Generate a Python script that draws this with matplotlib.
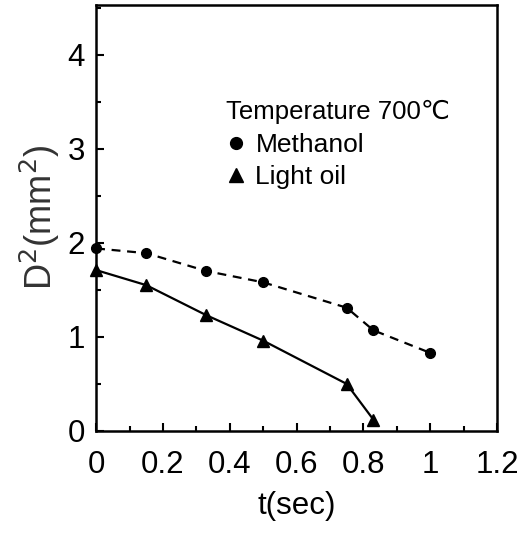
import matplotlib
matplotlib.use("Agg")
import matplotlib.pyplot as plt
from matplotlib.lines import Line2D
from matplotlib.ticker import MultipleLocator

plt.rcParams['font.family'] = ['Liberation Sans', 'DejaVu Sans']

# data
t_methanol = [0, 0.15, 0.33, 0.5, 0.75, 0.83, 1.0]
d2_methanol = [1.94, 1.89, 1.70, 1.58, 1.31, 1.07, 0.83]

t_oil = [0, 0.15, 0.33, 0.5, 0.75, 0.83]
d2_oil = [1.71, 1.55, 1.23, 0.96, 0.50, 0.12]

xticks = [0, 0.2, 0.4, 0.6, 0.8, 1, 1.2]
xticklabels = ['0', '0.2', '0.4', '0.6', '0.8', '1', '1.2']
yticks = [0, 1, 2, 3, 4]

fig = plt.figure(figsize=(5.31, 5.36), dpi=100)
ax = fig.add_axes([0.181, 0.196, 0.755, 0.795])

ax.plot(t_methanol, d2_methanol, color='black', lw=1.6, ls=(0, (4, 3)),
        marker='o', ms=7, clip_on=False)
ax.plot(t_oil, d2_oil, color='black', lw=1.6, ls='-',
        marker='^', ms=8, clip_on=False)

ax.set_xlim(0, 1.2)
ax.set_ylim(0, 4.53)
ax.set_xticks(xticks)
ax.set_xticklabels(xticklabels)
ax.set_yticks(yticks)
ax.xaxis.set_minor_locator(MultipleLocator(0.1))
ax.yaxis.set_minor_locator(MultipleLocator(0.5))
ax.tick_params(which='both', direction='in', top=False, right=False,
               labelsize=22.5, width=1.5)
ax.tick_params(axis='x', pad=14)
ax.tick_params(axis='y', pad=8)
ax.tick_params(which='major', length=6)
ax.tick_params(which='minor', length=3.5)
for s in ax.spines.values():
    s.set_linewidth(1.8)

ax.set_xlabel('t(sec)', fontsize=22.5, labelpad=8)
ax.set_ylabel('D$^2$(mm$^2$)', fontsize=26, color='#333333', labelpad=4)

handles = [Line2D([], [], color='black', marker='o', ls='none', ms=8.5),
           Line2D([], [], color='black', marker='^', ls='none', ms=9.5)]
leg = ax.legend(handles, ['Methanol', 'Light oil'], title='Temperature 700\u2103',
                loc='upper left', bbox_to_anchor=(0.325, 0.776), frameon=False,
                fontsize=19, title_fontsize=18.5, handlelength=0.7,
                handletextpad=0.4, labelspacing=0.32, borderpad=0,
                borderaxespad=0)
leg._legend_box.align = 'left'

fig.savefig('out.png', dpi=100)
